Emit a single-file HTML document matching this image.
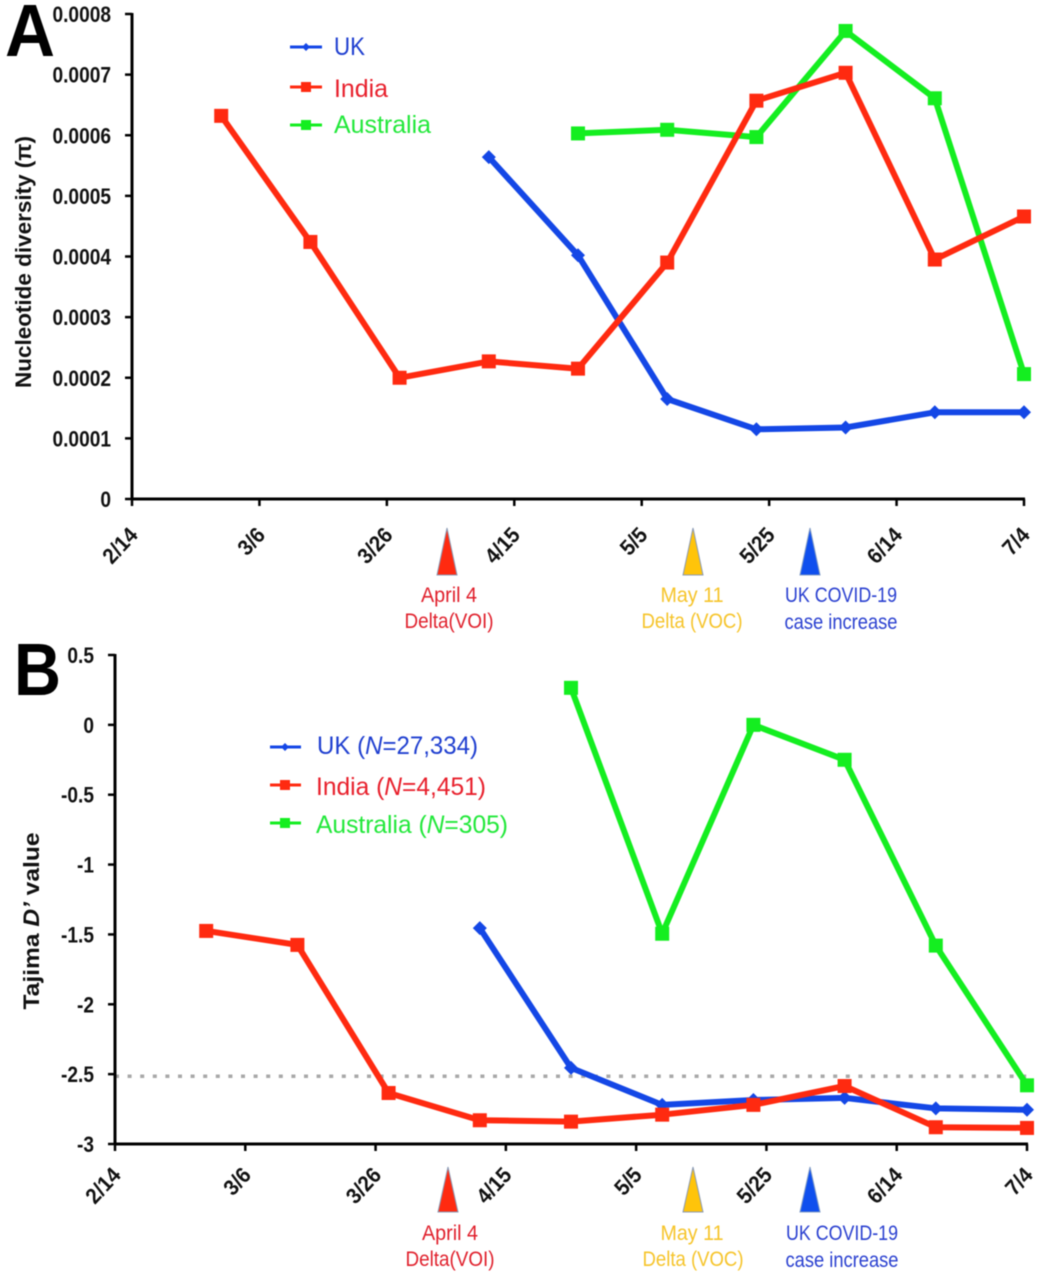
<!DOCTYPE html>
<html lang="en">
<head>
<meta charset="utf-8">
<title>Nucleotide diversity and Tajima D by region</title>
<style>
html,body{margin:0;padding:0;background:#fff;overflow:hidden;}
svg{display:block;filter:blur(.45px);}
text{font-family:"Liberation Sans",sans-serif;}
</style>
</head>
<body>
<svg id="figure" xmlns="http://www.w3.org/2000/svg" width="1043" height="1280" viewBox="0 0 1043 1280">
  <rect width="1043" height="1280" fill="#fff"/>
  <text x="5" y="56" font-size="74" font-weight="700" fill="#000" textLength="50" lengthAdjust="spacingAndGlyphs">A</text>
  <text x="14" y="695" font-size="74" font-weight="700" fill="#000" textLength="47" lengthAdjust="spacingAndGlyphs">B</text>

  <text transform="translate(31,262) rotate(-90)" text-anchor="middle" font-size="22" font-weight="700" fill="#111" textLength="252" lengthAdjust="spacingAndGlyphs">Nucleotide diversity (π)</text>
  <text transform="translate(39,921) rotate(-90)" text-anchor="middle" font-size="22" font-weight="700" fill="#111" textLength="177" lengthAdjust="spacingAndGlyphs">Tajima <tspan font-style="italic">D’</tspan> value</text>

  <g id="plot-a"></g>
  <g id="plot-b"></g>

  <g font-size="25">
    <g>
      <line x1="290" y1="47" x2="322" y2="47" stroke="#1447e6" stroke-width="3"/>
      <polygon points="306,43 310,47 306,51 302,47" fill="#1447e6"/>
      <text x="334" y="55" fill="#1f3fd0" textLength="31" lengthAdjust="spacingAndGlyphs">UK</text>
    </g>
    <g>
      <line x1="290" y1="87" x2="322" y2="87" stroke="#ff2a10" stroke-width="3"/>
      <rect x="301" y="82" width="10" height="10" fill="#ff2a10"/>
      <text x="334" y="97" fill="#e8202c" textLength="54" lengthAdjust="spacingAndGlyphs">India</text>
    </g>
    <g>
      <line x1="290" y1="125" x2="322" y2="125" stroke="#14ee20" stroke-width="3"/>
      <rect x="301" y="120" width="10" height="10" fill="#14ee20"/>
      <text x="334" y="133" fill="#22e83a" textLength="97" lengthAdjust="spacingAndGlyphs">Australia</text>
    </g>
  </g>

  <g font-size="25">
    <g>
      <line x1="270" y1="747" x2="301" y2="747" stroke="#1447e6" stroke-width="3"/>
      <polygon points="285,743 289,747 285,751 281,747" fill="#1447e6"/>
      <text x="317" y="754" fill="#1f3fd0" textLength="161" lengthAdjust="spacingAndGlyphs">UK (<tspan font-style="italic">N</tspan>=27,334)</text>
    </g>
    <g>
      <line x1="270" y1="785" x2="301" y2="785" stroke="#ff2a10" stroke-width="3"/>
      <rect x="280" y="780" width="10" height="10" fill="#ff2a10"/>
      <text x="316" y="795" fill="#e8202c" textLength="170" lengthAdjust="spacingAndGlyphs">India (<tspan font-style="italic">N</tspan>=4,451)</text>
    </g>
    <g>
      <line x1="270" y1="823" x2="301" y2="823" stroke="#14ee20" stroke-width="3"/>
      <rect x="280" y="818" width="10" height="10" fill="#14ee20"/>
      <text x="316" y="833" fill="#22e83a" textLength="192" lengthAdjust="spacingAndGlyphs">Australia (<tspan font-style="italic">N</tspan>=305)</text>
    </g>
  </g>

  <g font-size="21" text-anchor="middle">
    <polygon points="447,528 457,575 437,575" fill="#ff2a10" stroke="#8a9ab5" stroke-width="1"/>
    <polygon points="693,528 703,575 683,575" fill="#ffc40a" stroke="#8a9ab5" stroke-width="1"/>
    <polygon points="810,528 820,575 800,575" fill="#0f4fee" stroke="#7f9ac5" stroke-width="1"/>
    <text x="449" y="602" fill="#e0202c" textLength="56" lengthAdjust="spacingAndGlyphs">April 4</text>
    <text x="449" y="628" fill="#e0202c" textLength="89" lengthAdjust="spacingAndGlyphs">Delta(VOI)</text>
    <text x="692" y="602" fill="#f6c42a" textLength="63" lengthAdjust="spacingAndGlyphs">May 11</text>
    <text x="692" y="628" fill="#f6c42a" textLength="101" lengthAdjust="spacingAndGlyphs">Delta (VOC)</text>
    <text x="841" y="602" fill="#2a40d0" textLength="112" lengthAdjust="spacingAndGlyphs">UK COVID-19</text>
    <text x="841" y="629" fill="#2a40d0" textLength="113" lengthAdjust="spacingAndGlyphs">case increase</text>
  </g>

  <g font-size="21" text-anchor="middle">
    <polygon points="448,1167 458,1212 438,1212" fill="#ff2a10" stroke="#8a9ab5" stroke-width="1"/>
    <polygon points="693,1167 703,1212 683,1212" fill="#ffc40a" stroke="#8a9ab5" stroke-width="1"/>
    <polygon points="810,1167 820,1212 800,1212" fill="#0f4fee" stroke="#7f9ac5" stroke-width="1"/>
    <text x="450" y="1240" fill="#e0202c" textLength="56" lengthAdjust="spacingAndGlyphs">April 4</text>
    <text x="450" y="1266" fill="#e0202c" textLength="89" lengthAdjust="spacingAndGlyphs">Delta(VOI)</text>
    <text x="692" y="1240" fill="#f6c42a" textLength="63" lengthAdjust="spacingAndGlyphs">May 11</text>
    <text x="693" y="1266" fill="#f6c42a" textLength="101" lengthAdjust="spacingAndGlyphs">Delta (VOC)</text>
    <text x="842" y="1240" fill="#2a40d0" textLength="112" lengthAdjust="spacingAndGlyphs">UK COVID-19</text>
    <text x="842" y="1267" fill="#2a40d0" textLength="113" lengthAdjust="spacingAndGlyphs">case increase</text>
  </g>
</svg>

<script>
var dateLabels = ['2/14', '3/6', '3/26', '4/15', '5/5', '5/25', '6/14', '7/4'];
var dateTicks = [0, 20, 40, 60, 80, 100, 120, 140];
var sampleDays = [14, 28, 42, 56, 70, 84, 98, 112, 126, 140];
var sampleDaysUk = [56, 70, 84, 98, 112, 126, 140];
var sampleDaysAustralia = [70, 84, 98, 112, 126, 140];

var diversityTicks = [0, 0.0001, 0.0002, 0.0003, 0.0004, 0.0005, 0.0006, 0.0007, 0.0008];
var diversityTickLabels = ['0', '0.0001', '0.0002', '0.0003', '0.0004', '0.0005', '0.0006', '0.0007', '0.0008'];
var diversityIndia = [0.000632, 0.000424, 0.000200, 0.000227, 0.000215, 0.000390, 0.000657, 0.000703, 0.000395, 0.000466];
var diversityUk = [0.000564, 0.000402, 0.000165, 0.000115, 0.000118, 0.000143, 0.000143];
var diversityAustralia = [0.000603, 0.000609, 0.000597, 0.000772, 0.000661, 0.000206];

var tajimaTicks = [0.5, 0, -0.5, -1, -1.5, -2, -2.5, -3];
var tajimaTickLabels = ['0.5', '0', '-0.5', '-1', '-1.5', '-2', '-2.5', '-3'];
var tajimaIndia = [-1.475, -1.575, -2.635, -2.83, -2.84, -2.79, -2.72, -2.585, -2.88, -2.885];
var tajimaUk = [-1.455, -2.455, -2.72, -2.685, -2.67, -2.745, -2.755];
var tajimaAustralia = [0.265, -1.495, 0, -0.25, -1.58, -2.58];
var tajimaThreshold = -2.515;

var SVGNS = 'http://www.w3.org/2000/svg';
function make(tag, attrs, parent) {
  var el = document.createElementNS(SVGNS, tag);
  for (var k in attrs) el.setAttribute(k, attrs[k]);
  parent.appendChild(el);
  return el;
}

function drawAxes(g, key, xFn, yFn, yVals, yLabels, yMinVal, yMaxVal, labelRight, xLabelY) {
  var axisY = yFn(yMinVal);
  var axisX = xFn(0);

  var yAxis = make('line', {x1: axisX, y1: yFn(yMaxVal) - 1, x2: axisX, y2: axisY + 1, stroke: '#000', 'stroke-width': 3}, g);
  
  

  var xAxis = make('line', {x1: axisX - 1, y1: axisY, x2: xFn(140) + 1, y2: axisY, stroke: '#000', 'stroke-width': 3}, g);
  
  

  yVals.forEach(function (v, i) {
    var tick = make('line', {x1: axisX - 7, y1: yFn(v), x2: axisX, y2: yFn(v), stroke: '#000', 'stroke-width': 2.5}, g);
    
    
    var label = make('text', {transform: 'translate(' + labelRight + ',' + (yFn(v) + 8) + ') scale(.87,1)', 'text-anchor': 'end', 'font-size': 22, 'font-weight': 700, fill: '#111'}, g);
    label.textContent = yLabels[i];
    
    
  });

  dateTicks.forEach(function (d, i) {
    var tick = make('line', {x1: xFn(d), y1: axisY, x2: xFn(d), y2: axisY + 7, stroke: '#000', 'stroke-width': 2.5}, g);
    
    
    var tx = xFn(d) + 7;
    var label = make('text', {transform: 'translate(' + tx + ',' + xLabelY + ') rotate(-47) scale(.93,1)', 'text-anchor': 'end', 'font-size': 22, 'font-weight': 700, fill: '#111'}, g);
    label.textContent = dateLabels[i];
    
    
  });
}

function drawSeries(g, key, xFn, yFn, days, values, color, markerKind) {
  var pts = values.map(function (v, i) { return xFn(days[i]).toFixed(1) + ',' + yFn(v).toFixed(1); }).join(' ');
  var line = make('polyline', {points: pts, fill: 'none', stroke: color, 'stroke-width': 6, 'stroke-linejoin': 'round'}, g);
  
  
  values.forEach(function (v, i) {
    var cx = xFn(days[i]);
    var cy = yFn(v);
    var m;
    if (markerKind === 'diamond') {
      m = make('polygon', {points: cx + ',' + (cy - 7) + ' ' + (cx + 7) + ',' + cy + ' ' + cx + ',' + (cy + 7) + ' ' + (cx - 7) + ',' + cy, fill: color}, g);
    } else {
      m = make('rect', {x: cx - 7, y: cy - 7, width: 14, height: 14, fill: color}, g);
    }
    
    
  });
}

var BLUE = '#1447e6', RED = '#ff2a10', GREEN = '#14ee20';

var plotA = document.getElementById('plot-a');
function xA(d) { return 132 + d * (1024 - 132) / 140; }
function yA(v) { return 499 - v * (499 - 14) / 0.0008; }
drawAxes(plotA, 'a', xA, yA, diversityTicks, diversityTickLabels, 0, 0.0008, 111, 536);
drawSeries(plotA, 'uk-a', xA, yA, sampleDaysUk, diversityUk, BLUE, 'diamond');
drawSeries(plotA, 'australia-a', xA, yA, sampleDaysAustralia, diversityAustralia, GREEN, 'square');
drawSeries(plotA, 'india-a', xA, yA, sampleDays, diversityIndia, RED, 'square');

var plotB = document.getElementById('plot-b');
function xB(d) { return 115 + d * (1027 - 115) / 140; }
function yB(v) { return 655 + (0.5 - v) * (1144 - 655) / 3.5; }
var thresholdLine = make('line', {x1: xB(0), y1: yB(tajimaThreshold), x2: xB(140), y2: yB(tajimaThreshold), stroke: '#a8a8a8', 'stroke-width': 3.5, 'stroke-dasharray': '4 8.6'}, plotB);


drawAxes(plotB, 'b', xB, yB, tajimaTicks, tajimaTickLabels, -3, 0.5, 94, 1176);
drawSeries(plotB, 'uk-b', xB, yB, sampleDaysUk, tajimaUk, BLUE, 'diamond');
drawSeries(plotB, 'australia-b', xB, yB, sampleDaysAustralia, tajimaAustralia, GREEN, 'square');
drawSeries(plotB, 'india-b', xB, yB, sampleDays, tajimaIndia, RED, 'square');
</script>
</body>
</html>
